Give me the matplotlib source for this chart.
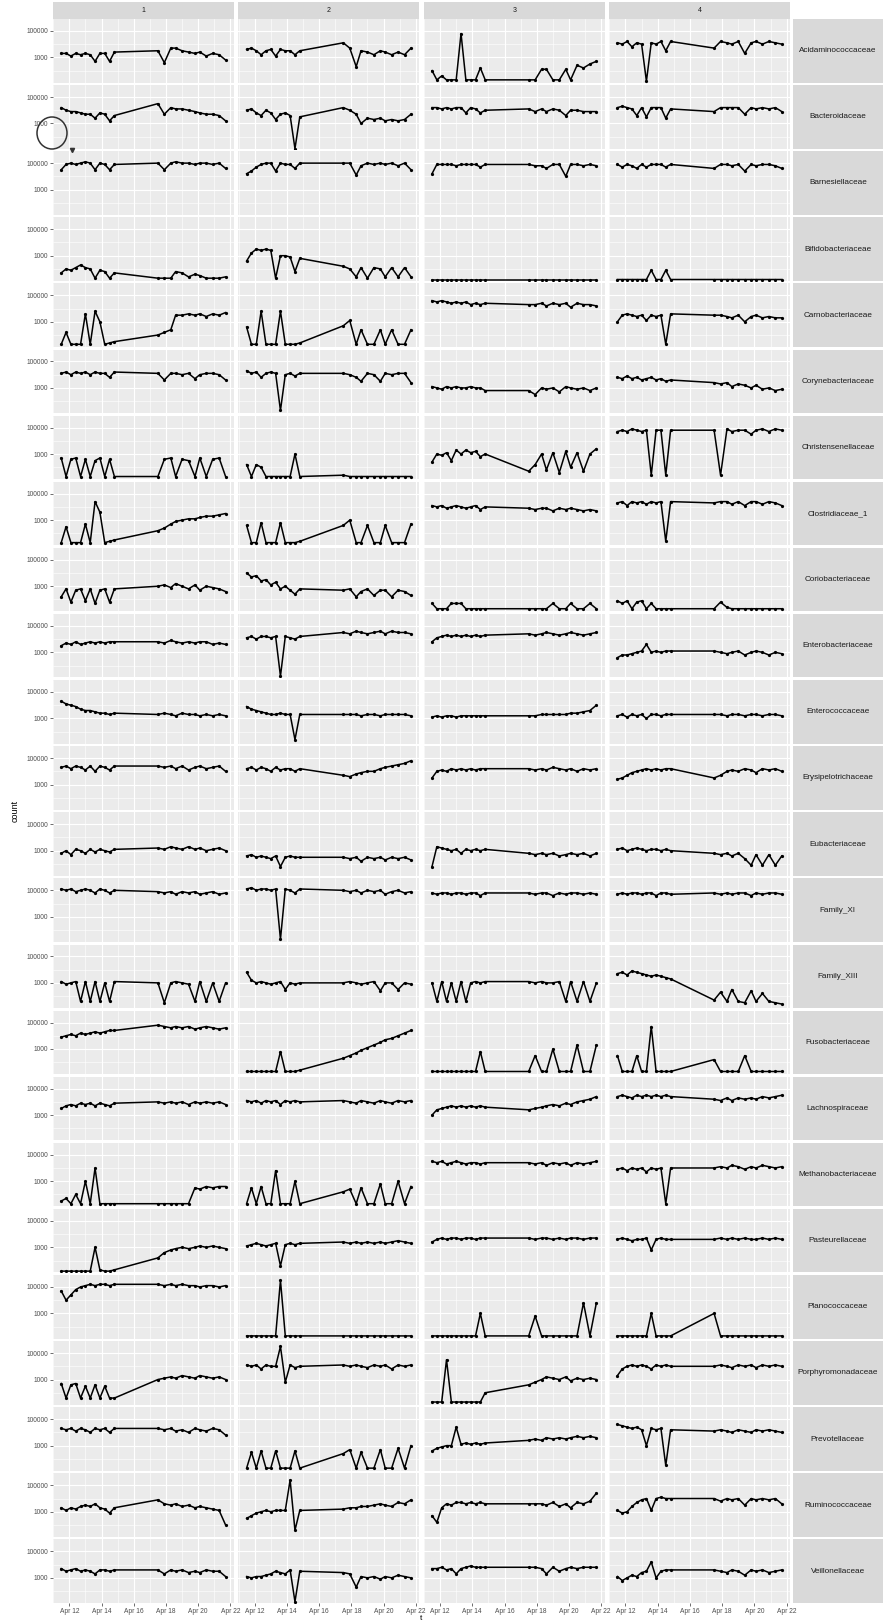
import numpy as np
import matplotlib
matplotlib.use("Agg")
import matplotlib.pyplot as plt
import matplotlib.dates as mdates
from matplotlib.ticker import FixedLocator, FuncFormatter, NullFormatter
from matplotlib.patches import Ellipse
from datetime import datetime, timedelta

plt.rcParams['font.family'] = ['Liberation Sans', 'DejaVu Sans']

# sampling days (April), shared by all subjects
sample_days = [11.5, 11.8, 12.1, 12.4, 12.7, 13.0, 13.3, 13.6, 13.9, 14.2, 14.5, 14.8,
               17.5, 17.9, 18.3, 18.6, 19.0, 19.4, 19.8, 20.1, 20.5, 20.9, 21.3, 21.7]
subjects = ["1", "2", "3", "4"]
families = ["Acidaminococcaceae", "Bacteroidaceae", "Barnesiellaceae", "Bifidobacteriaceae",
            "Carnobacteriaceae", "Corynebacteriaceae", "Christensenellaceae", "Clostridiaceae_1",
            "Coriobacteriaceae", "Enterobacteriaceae", "Enterococcaceae", "Erysipelotrichaceae",
            "Eubacteriaceae", "Family_XI", "Family_XIII", "Fusobacteriaceae",
            "Lachnospiraceae", "Methanobacteriaceae", "Pasteurellaceae", "Planococcaceae",
            "Porphyromonadaceae", "Prevotellaceae", "Ruminococcaceae", "Veillonellaceae"]

# counts per subject, in tenths of log10 (30 -> 1000)
acidaminococcaceae = [
    [33,33,31,33,32,33,32,27,33,33,27,34, 35,26,37,37,35,34,33,34,31,33,32,28],
    [36,37,35,32,35,36,31,36,35,35,32,35, 41,37,23,35,34,32,35,34,32,34,32,37],
    [20,13,16,13,13,13,48,13,13,13,22,13, 13,13,21,21,13,13,21,13,24,22,25,27],
    [41,40,42,38,41,40,12,41,40,42,35,42, 37,42,41,40,42,33,41,42,40,42,41,40]]
bacteroidaceae = [
    [42,40,39,39,38,37,37,34,38,37,32,36, 45,37,42,41,41,40,39,38,37,37,36,32],
    [40,41,38,36,40,38,33,37,38,36,11,35, 42,40,37,30,34,33,34,32,33,32,33,37],
    [42,42,41,42,41,42,42,38,42,41,38,40, 41,39,41,39,41,40,36,40,40,39,39,39],
    [42,43,42,41,36,42,35,42,42,42,34,41, 39,42,42,42,42,37,42,41,42,41,42,39]]
barnesiellaceae = [
    [45,49,50,49,50,51,50,45,50,49,45,49, 50,45,50,51,50,50,49,50,50,49,50,46],
    [42,44,47,49,50,50,44,50,49,49,46,50, 50,50,41,48,50,49,50,49,50,48,50,45],
    [42,49,49,49,49,48,49,49,49,49,47,49, 49,48,48,46,49,49,40,49,49,48,49,48],
    [49,47,49,48,46,49,47,49,49,49,47,49, 46,49,49,48,49,44,49,48,49,49,48,46]]
bifidobacteriaceae = [
    [17,20,19,21,23,21,20,13,19,18,13,17, 13,13,13,18,17,14,16,15,13,13,13,14],
    [26,32,35,34,35,34,13,30,30,29,18,28, 22,20,14,21,13,21,20,14,21,14,21,14],
    [12,12,12,12,12,12,12,12,12,12,12,12, 12,12,12,12,12,12,12,12,12,12,12,12],
    [12,12,12,12,12,12,12,19,12,12,19,12, 12,12,12,12,12,12,12,12,12,12,12,12]]
carnobacteriaceae = [
    [13,22,13,13,13,36,13,38,30,13,14,15, 20,22,24,35,35,36,35,36,34,36,35,37],
    [26,13,13,38,13,13,13,38,13,13,13,14, 27,31,13,24,13,13,24,13,24,13,13,24],
    [46,45,46,45,44,45,44,45,43,44,43,44, 43,43,44,42,44,43,44,41,44,43,43,42],
    [30,35,36,35,34,35,31,35,34,35,13,36, 35,35,34,33,35,30,34,35,33,34,33,33]]
corynebacteriaceae = [
    [41,42,40,42,41,42,40,42,41,41,38,42, 41,36,41,41,40,41,37,40,41,41,40,36],
    [43,41,42,38,41,42,41,13,40,41,39,41, 41,40,38,35,41,40,35,41,40,41,41,34],
    [31,30,29,31,30,31,30,30,31,30,30,28, 28,25,30,29,30,27,31,30,29,30,28,30],
    [38,37,39,37,38,36,37,38,36,37,35,36, 34,33,34,31,33,32,30,32,29,30,28,29]]
christensenellaceae = [
    [27,13,26,27,13,26,13,25,27,13,26,13, 13,26,27,13,26,25,13,27,13,26,27,13],
    [22,13,22,20,13,13,13,13,13,13,30,13, 14,13,13,13,13,13,13,13,13,13,13,13],
    [24,30,29,31,25,33,30,33,31,32,28,30, 17,22,30,18,31,16,32,20,31,17,30,34],
    [47,48,47,49,48,47,48,14,48,48,14,48, 48,14,49,47,48,48,45,48,49,47,49,48]]
clostridiaceae_1 = [
    [13,25,13,13,13,27,13,44,36,13,14,15, 22,24,27,29,30,31,31,32,33,33,34,35],
    [26,13,13,28,13,13,13,28,13,13,13,14, 26,30,13,13,26,13,13,26,13,13,13,27],
    [41,40,41,39,40,41,40,39,40,41,38,40, 39,38,39,39,37,39,38,39,38,37,38,37],
    [43,44,41,44,43,44,42,44,43,44,14,44, 43,44,44,42,44,41,44,44,42,44,43,41]]
coriobacteriaceae = [
    [22,28,18,27,28,19,28,17,27,28,18,28, 30,31,29,32,30,28,31,27,30,29,28,26],
    [40,37,38,34,35,31,33,28,30,27,24,28, 27,28,22,26,28,23,27,27,22,27,26,23],
    [17,13,13,13,17,17,17,13,13,13,13,13, 13,13,13,13,17,13,13,17,13,13,17,13],
    [19,17,19,13,18,19,13,17,13,13,13,13, 13,18,14,13,13,13,13,13,13,13,13,13]]
enterobacteriaceae = [
    [35,37,36,38,36,37,38,37,38,37,38,38, 38,37,39,38,37,38,37,38,38,36,37,36],
    [41,42,40,42,42,41,42,12,42,41,40,42, 45,44,46,45,44,45,46,44,46,45,45,44],
    [38,41,42,43,42,43,42,43,42,43,42,43, 44,43,44,45,44,43,44,45,44,43,44,45],
    [26,28,28,29,30,31,36,30,31,30,31,31, 31,30,29,30,31,28,30,31,30,28,30,29]]
enterococcaceae = [
    [43,41,40,39,37,36,36,35,34,34,33,34, 33,34,33,32,34,33,33,32,33,32,33,32],
    [39,37,36,35,34,33,33,34,33,33,14,33, 33,33,33,32,33,33,32,33,33,33,33,32],
    [31,32,31,32,32,31,32,32,32,32,32,32, 32,32,33,33,33,33,33,34,34,35,36,40],
    [32,33,31,33,32,33,30,33,33,32,33,33, 33,33,32,33,33,32,33,33,32,33,33,32]]
erysipelotrichaceae = [
    [43,44,42,44,43,41,44,40,44,43,41,44, 44,43,44,42,44,41,43,44,42,43,44,40],
    [42,43,41,43,42,40,43,41,42,42,40,42, 37,36,38,39,40,40,42,43,44,45,46,48],
    [35,40,41,40,42,41,42,41,42,41,42,42, 42,41,42,41,43,42,41,42,40,42,41,42],
    [34,35,37,39,40,41,42,41,42,41,42,42, 35,37,40,41,40,42,41,39,42,41,42,40]]
eubacteriaceae = [
    [28,30,27,31,30,28,31,29,31,30,29,31, 32,31,33,32,31,33,31,32,30,31,32,30],
    [26,27,25,26,25,24,26,18,25,26,25,25, 25,24,25,22,25,24,25,23,25,24,25,23],
    [18,33,32,31,30,31,28,31,30,31,30,31, 28,27,28,27,28,26,27,28,27,28,26,28],
    [31,32,30,31,32,31,30,31,31,30,31,30, 28,27,28,26,28,24,19,27,19,27,19,26]]
family_xi = [
    [51,50,51,49,50,51,50,48,51,50,48,50, 49,48,49,47,49,48,49,47,48,49,47,48],
    [51,52,50,51,51,50,51,13,51,50,48,51, 50,49,50,48,50,49,50,47,49,50,48,49],
    [48,47,48,48,47,48,48,47,48,48,46,48, 48,47,48,48,46,48,47,48,48,47,48,47],
    [47,48,47,48,48,47,48,48,46,48,48,47, 48,47,48,47,48,48,46,48,47,48,48,47]]
family_xiii = [
    [31,29,30,31,16,31,16,31,16,30,16,31, 30,15,30,31,30,29,16,31,16,30,16,30],
    [38,32,30,31,30,29,30,31,25,30,29,30, 30,31,30,29,30,31,24,30,30,25,30,29],
    [30,16,31,16,30,16,31,16,30,31,30,31, 31,30,31,30,30,31,16,31,16,31,16,30],
    [37,38,36,39,38,37,36,35,36,35,34,33, 17,23,16,25,16,15,24,16,22,16,15,14]]
fusobacteriaceae = [
    [39,40,41,40,42,41,42,43,42,43,44,44, 48,47,46,47,46,47,45,46,47,46,45,46],
    [13,13,13,13,13,13,13,28,13,13,13,14, 23,25,27,29,31,33,35,37,38,40,42,44],
    [13,13,13,13,13,13,13,13,13,13,28,13, 13,25,13,13,30,13,13,13,33,13,13,33],
    [25,13,13,13,25,13,13,47,13,13,13,13, 22,13,13,13,13,25,13,13,13,13,13,13]]
lachnospiraceae = [
    [35,37,38,37,39,38,39,37,39,38,37,39, 40,39,40,39,40,38,40,39,40,39,40,38],
    [41,40,41,39,41,40,41,38,41,40,41,40, 41,40,39,41,40,39,41,40,39,41,40,41],
    [30,34,35,36,37,36,37,36,37,36,37,36, 34,35,36,37,38,37,39,38,40,41,42,44],
    [44,45,44,43,45,44,45,44,45,44,45,44, 42,41,43,41,43,42,43,42,44,43,44,45]]
methanobacteriaceae = [
    [15,17,13,20,13,30,13,40,13,13,13,13, 13,13,13,13,13,13,25,24,26,25,26,26],
    [13,25,13,26,13,13,38,13,13,13,30,13, 22,24,13,25,13,13,28,13,13,30,13,26],
    [45,44,45,43,44,45,44,43,44,44,43,44, 44,43,44,42,44,43,44,42,44,43,44,45],
    [39,40,38,40,39,40,37,40,39,40,13,40, 40,41,40,42,41,39,41,40,42,41,40,41]]
pasteurellaceae = [
    [12,12,12,12,12,12,12,30,13,12,12,13, 22,26,28,29,30,29,30,31,30,31,30,29],
    [31,32,33,32,31,32,33,16,32,33,32,33, 34,33,34,33,34,33,34,33,34,35,34,33],
    [34,36,37,36,37,37,36,37,37,36,37,37, 37,36,37,37,36,37,36,37,37,36,37,37],
    [36,37,36,35,36,36,37,28,36,37,36,36, 36,37,36,37,36,37,36,36,37,36,37,36]]
planococcaceae = [
    [47,40,44,48,50,51,52,51,52,52,51,52, 52,51,52,51,52,51,51,50,51,51,50,51],
    [13,13,13,13,13,13,13,55,13,13,13,13, 13,13,13,13,13,13,13,13,13,13,13,13],
    [13,13,13,13,13,13,13,13,13,13,30,13, 13,28,13,13,13,13,13,13,13,38,13,38],
    [13,13,13,13,13,13,13,30,13,13,13,13, 30,13,13,13,13,13,13,13,13,13,13,13]]
porphyromonadaceae = [
    [27,16,26,27,16,25,16,26,16,25,16,16, 30,31,32,31,33,32,31,33,32,31,32,30],
    [41,40,41,38,41,40,40,55,28,41,39,40, 41,40,41,40,39,41,40,41,38,41,40,41],
    [13,13,13,45,13,13,13,13,13,13,13,20, 26,28,30,32,31,30,32,29,31,30,31,30],
    [33,38,40,41,40,41,40,38,41,40,41,40, 40,41,40,39,41,40,41,39,41,40,41,40]]
prevotellaceae = [
    [43,42,43,41,43,42,40,43,42,43,40,43, 43,42,43,41,42,40,43,42,41,43,42,38],
    [13,25,13,26,13,13,26,13,13,13,26,13, 24,27,13,25,13,13,27,13,13,28,13,30],
    [26,28,29,30,30,44,31,32,31,32,31,32, 34,35,34,36,35,36,35,36,37,36,37,36],
    [46,45,44,43,44,42,30,43,42,43,15,42, 41,42,41,40,42,41,40,42,41,42,41,40]]
ruminococcaceae = [
    [33,31,33,32,34,35,34,36,33,32,29,33, 39,36,35,36,34,35,33,34,33,32,31,20],
    [25,27,29,30,31,30,31,31,31,54,16,31, 32,33,33,34,34,35,36,35,34,37,36,39],
    [27,22,33,36,35,37,37,36,37,36,37,36, 36,36,36,35,37,34,36,33,37,36,38,44],
    [31,29,30,34,37,39,40,31,40,41,40,40, 40,38,40,39,40,35,40,39,40,39,40,36]]
veillonellaceae = [
    [37,35,36,37,35,36,35,33,36,36,35,36, 36,33,36,35,36,34,35,34,36,35,35,31],
    [31,30,31,31,32,33,35,34,33,36,12,35, 34,33,23,31,30,31,29,31,30,32,31,30],
    [37,37,38,36,37,33,37,38,39,38,38,38, 38,38,37,33,38,35,37,38,37,38,38,38],
    [31,28,30,32,31,34,35,42,30,35,36,36, 36,35,34,36,35,32,36,35,36,34,35,36]]

rows = [acidaminococcaceae, bacteroidaceae, barnesiellaceae, bifidobacteriaceae,
        carnobacteriaceae, corynebacteriaceae, christensenellaceae, clostridiaceae_1,
        coriobacteriaceae, enterobacteriaceae, enterococcaceae, erysipelotrichaceae,
        eubacteriaceae, family_xi, family_xiii, fusobacteriaceae,
        lachnospiraceae, methanobacteriaceae, pasteurellaceae, planococcaceae,
        porphyromonadaceae, prevotellaceae, ruminococcaceae, veillonellaceae]

base = datetime(2016, 4, 1)
times = [base + timedelta(days=d - 1) for d in sample_days]
xlim = (base + timedelta(days=9.99), base + timedelta(days=21.21))

W, H = 883, 1623
fig = plt.figure(figsize=(W / 100, H / 100), dpi=100)
fig.patch.set_facecolor('white')

# layout in pixels
left, right, top, bottom = 53, 790, 19, 1603
hgap, vgap = 4.6, 2.6
pw = (right - left - 3 * hgap) / 4
ph = (bottom - top - 23 * vgap) / 24
strip_bg = '#D9D9D9'


def px_axes(x0, y0, w, h):
    return fig.add_axes([x0 / W, 1 - (y0 + h) / H, w / W, h / H])


for r, fam in enumerate(families):
    y0 = top + r * (ph + vgap)
    for c, subj in enumerate(subjects):
        x0 = left + c * (pw + hgap)
        ax = px_axes(x0, y0, pw, ph)
        ax.set_facecolor('#EBEBEB')
        vals = 10 ** (np.array(rows[r][c]) / 10.0)
        ax.plot(times, vals, color='black', lw=1.1, marker='o', ms=1.3, zorder=3)
        ax.set_yscale('log')
        ax.set_ylim(10 ** 1.1, 10 ** 5.9)
        ax.set_xlim(*xlim)
        ax.yaxis.set_major_locator(FixedLocator([1e3, 1e5]))
        ax.yaxis.set_minor_locator(FixedLocator([1e2, 1e4]))
        ax.yaxis.set_major_formatter(FuncFormatter(lambda v, p: f"{v:.0f}"))
        ax.yaxis.set_minor_formatter(NullFormatter())
        ax.xaxis.set_major_locator(mdates.DayLocator(bymonthday=[12, 14, 16, 18, 20, 22]))
        ax.xaxis.set_minor_locator(mdates.DayLocator(bymonthday=[11, 13, 15, 17, 19, 21]))
        ax.xaxis.set_major_formatter(mdates.DateFormatter('%b %d'))
        ax.grid(which='major', color='white', lw=0.8)
        ax.grid(which='minor', color='white', lw=0.4)
        ax.set_axisbelow(True)
        for s in ax.spines.values():
            s.set_visible(False)
        ax.tick_params(which='both', length=0, labelsize=4.8,
                       labelcolor='#4D4D4D', pad=1.5)
        ax.tick_params(which='major', axis='y', length=2 if c == 0 else 0,
                       width=0.5, color='#333333', labelleft=(c == 0))
        ax.tick_params(which='major', axis='x', length=2 if r == 23 else 0,
                       width=0.5, color='#333333', labelbottom=(r == 23))
        if r == 0:
            sax = px_axes(x0, 2, pw, top - 2)
            sax.set_facecolor(strip_bg)
            sax.set_xticks([]); sax.set_yticks([])
            for s in sax.spines.values():
                s.set_visible(False)
            sax.text(0.5, 0.5, subj, ha='center', va='center', fontsize=5,
                     color='#1A1A1A', transform=sax.transAxes)
    rax = px_axes(right + 2.5, y0, W - right - 2.5, ph)
    rax.set_facecolor(strip_bg)
    rax.set_xticks([]); rax.set_yticks([])
    for s in rax.spines.values():
        s.set_visible(False)
    rax.text(0.5, 0.5, fam, ha='center', va='center', fontsize=5.9,
             color='#1A1A1A', transform=rax.transAxes)

fig.text(15 / W, 1 - (top + bottom) / 2 / H, 'count', rotation=90,
         ha='center', va='center', fontsize=6.5, color='black')
fig.text((left + right) / 2 / W, 1 - 1618 / H, 't', ha='center', va='center',
         fontsize=6, color='black')

# hand-drawn mark on the original figure
fig.add_artist(Ellipse((52 / W, 1 - 133 / H), 30 / W, 32 / H, transform=fig.transFigure,
                       fill=False, ec='#333333', lw=1.1))
fig.add_artist(plt.Line2D([72 / W], [1 - 150 / H], marker='v', ms=3, color='#333333',
                          transform=fig.transFigure))

fig.savefig('out.png', dpi=100)
